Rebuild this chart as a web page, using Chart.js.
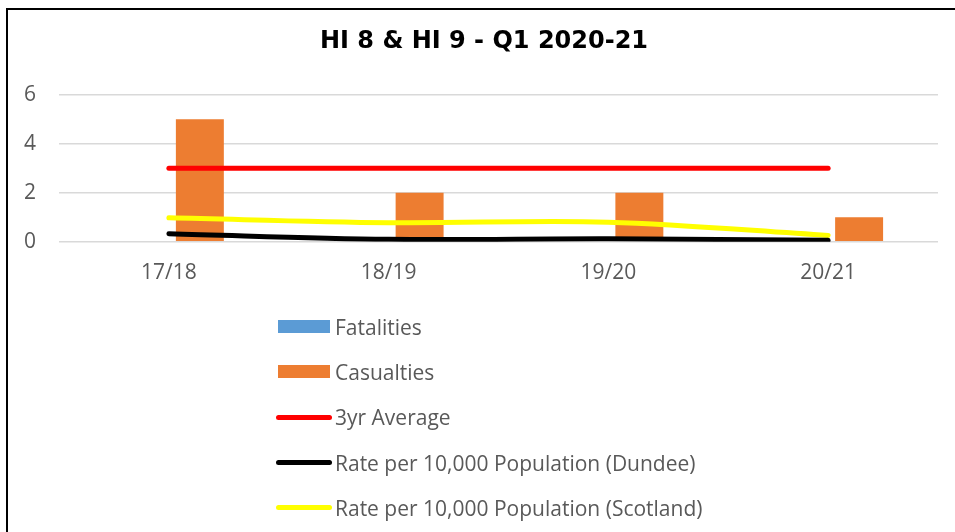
<!DOCTYPE html>
<html>
<head>
<meta charset="utf-8">
<script src="https://cdn.jsdelivr.net/npm/chart.js@4.4.1/dist/chart.umd.min.js"></script>
<style>
    html, body { margin: 0; padding: 0; background: #fff; overflow: hidden; }
    body { width: 955px; height: 532px; position: relative; }
    #frame {
        position: absolute; left: 6px; top: 8px;
        width: 1000px; height: 600px;
        border: 2px solid #000; box-sizing: border-box;
    }
    #chart-wrap { position: absolute; left: 13px; top: 0; width: 942px; height: 315px; }
    #legend {
        position: absolute; left: 276px; top: 304px;
        list-style: none; margin: 0; padding: 0;
        font-family: "Open Sans", sans-serif; font-size: 21px; color: #595959;
    }
    #legend li { height: 45.3px; display: flex; align-items: center; }
    #legend .swatch { width: 56px; display: flex; justify-content: center; margin-right: 3px; }
</style>
</head>
<body>
<div id="frame"></div>
<div id="chart-wrap"><canvas id="hiChart"></canvas></div>
<ul id="legend"></ul>
<script>
const years = ['17/18', '18/19', '19/20', '20/21'];
const fatalities = [0, 0, 0, 0];
const casualties = [5, 2, 2, 1];
const threeYrAverage = [3, 3, 3, 3];
const rateDundee = [0.33, 0.1, 0.12, 0.06];
const rateScotland = [0.98, 0.78, 0.8, 0.26];

const tickFont = { family: '"Open Sans", sans-serif', size: 21 };

function lineSet(label, data, color) {
    return {
        type: 'line',
        label: label,
        data: data,
        borderColor: color,
        backgroundColor: color,
        borderWidth: 5,
        borderCapStyle: 'round',
        pointRadius: 0,
        tension: 0.35,
        order: 1
    };
}

const ctx = document.getElementById('hiChart').getContext('2d');
const hiChart = new Chart(ctx, {
    type: 'bar',
    data: {
        labels: years,
        datasets: [
            { label: 'Fatalities', data: fatalities, backgroundColor: '#5B9BD5', order: 2,
              categoryPercentage: 0.564, barPercentage: 0.774 },
            { label: 'Casualties', data: casualties, backgroundColor: '#ED7D31', order: 2,
              categoryPercentage: 0.564, barPercentage: 0.774 },
            lineSet('3yr Average', threeYrAverage, '#FF0000'),
            lineSet('Rate per 10,000 Population (Dundee)', rateDundee, '#000000'),
            lineSet('Rate per 10,000 Population (Scotland)', rateScotland, '#FFFF00')
        ]
    },
    options: {
        responsive: true,
        maintainAspectRatio: false,
        animation: false,
        layout: { padding: { bottom: 10 } },
        plugins: {
            legend: { display: false },
            tooltip: { enabled: false },
            title: {
                display: true,
                text: 'HI 8 & HI 9 - Q1 2020-21',
                color: '#000',
                font: { family: '"DejaVu Sans", sans-serif', size: 24, weight: 'bold', lineHeight: 1.2 },
                padding: { top: 27, bottom: 39 }
            }
        },
        scales: {
            x: {
                grid: { display: false, drawTicks: false },
                border: { display: false },
                ticks: { color: '#595959', font: tickFont, padding: 19 }
            },
            y: {
                min: 0,
                max: 6,
                afterFit: (scale) => { scale.width = 46; },
                grid: { color: '#D9D9D9', lineWidth: 1.5, drawTicks: false },
                border: { display: false },
                ticks: { stepSize: 2, color: '#595959', font: tickFont, padding: 23 }
            },
            // empty right-hand axis, only keeps a margin right of the plot
            yRight: {
                position: 'right',
                afterFit: (scale) => { scale.width = 17; },
                grid: { display: false, drawTicks: false },
                border: { display: false },
                ticks: { display: false }
            }
        }
    }
});

// Vertical legend built from the datasets
const legendEl = document.getElementById('legend');
legendEl.innerHTML = hiChart.data.datasets.map(ds => {
    const swatch = ds.type === 'line'
        ? `<span style="display:block;width:56px;height:5px;border-radius:3px;background:${ds.borderColor}"></span>`
        : `<span style="display:block;width:52px;height:13px;background:${ds.backgroundColor}"></span>`;
    return `<li><span class="swatch">${swatch}</span><span>${ds.label}</span></li>`;
}).join('');
</script>
</body>
</html>
